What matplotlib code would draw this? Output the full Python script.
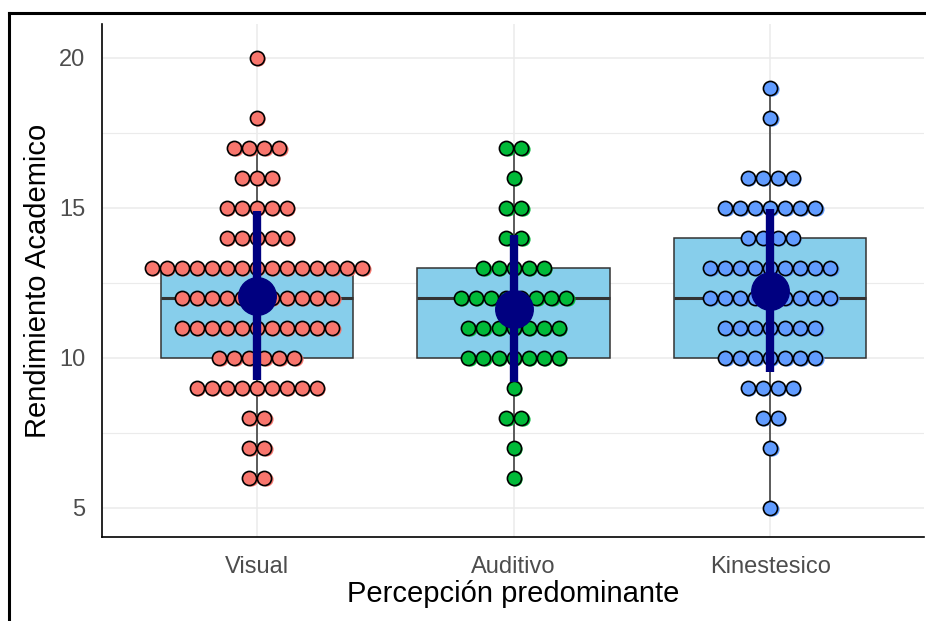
import numpy as np
import matplotlib
matplotlib.use("Agg")
import matplotlib.pyplot as plt
from matplotlib.lines import Line2D
from matplotlib.transforms import ScaledTranslation

plt.rcParams['font.family'] = ['Liberation Sans', 'DejaVu Sans']

groups = ['Visual', 'Auditivo', 'Kinestesico']
colors = ['#F8766D', '#00BA38', '#619CFF']

# score -> number of students per perception group
visual_scores = [20, 18, 17, 16, 15, 14, 13, 12, 11, 10, 9, 8, 7, 6]
visual_counts = [1, 1, 4, 3, 5, 5, 15, 11, 11, 6, 9, 2, 2, 2]
auditivo_scores = [17, 16, 15, 14, 13, 12, 11, 10, 9, 8, 7, 6]
auditivo_counts = [2, 1, 2, 2, 5, 8, 7, 7, 1, 2, 1, 1]
kines_scores = [19, 18, 16, 15, 14, 13, 12, 11, 10, 9, 8, 7, 5]
kines_counts = [1, 1, 4, 7, 4, 9, 9, 7, 7, 4, 2, 1, 1]

score_sets = [visual_scores, auditivo_scores, kines_scores]
count_sets = [visual_counts, auditivo_counts, kines_counts]
values = [np.repeat(s, c) for s, c in zip(score_sets, count_sets)]

W, H = 926, 621
fig = plt.figure(figsize=(W / 100, H / 100), dpi=100)
ax = fig.add_axes([102 / W, (H - 537) / H, (924 - 102) / W, (537 - 24) / H])

pos = np.arange(1, len(groups) + 1)
grid_c = '#EBEBEB'
ax.set_axisbelow(True)
ax.set_yticks([5, 10, 15, 20])
ax.set_yticks([7.5, 12.5, 17.5], minor=True)
ax.grid(axis='y', which='major', color=grid_c, lw=1.1)
ax.grid(axis='y', which='minor', color=grid_c, lw=0.8)
ax.grid(axis='x', which='major', color=grid_c, lw=1.1)

ax.boxplot(values, positions=pos, widths=0.75, whis=1.5, showfliers=False,
           patch_artist=True,
           boxprops=dict(facecolor='#87CEEB', edgecolor='#333333', lw=1.1),
           medianprops=dict(color='#333333', lw=2.2),
           whiskerprops=dict(color='#333333', lw=1.1),
           capprops=dict(visible=False), zorder=2)

# stacked dots, centred on each group
spacing = 0.0585
shadow = ax.transData + ScaledTranslation(1.5 / 100, -1.5 / 100, fig.dpi_scale_trans)
for p, scores, counts, col in zip(pos, score_sets, count_sets, colors):
    xs, ys = [], []
    for s, n in zip(scores, counts):
        xs.extend(p + (np.arange(n) - (n - 1) / 2) * spacing)
        ys.extend([s] * n)
    ax.plot(xs, ys, 'o', ms=10.2, mfc=col, mec='none', transform=shadow, zorder=3)
    ax.plot(xs, ys, 'o', ms=10.2, mfc=col, mec='black', mew=1.2, zorder=4)

# mean +/- sd
for p, v in zip(pos, values):
    m, sd = v.mean(), v.std(ddof=1)
    ax.plot([p, p], [m - sd, m + sd], color='#000080', lw=6, solid_capstyle='butt', zorder=5)
    ax.plot([p], [m], 'o', ms=27, color='#000080', zorder=6)

ax.set_xlim(0.396, 3.6)
ax.set_ylim(4.03, 21.13)
ax.set_xticks(pos)
ax.set_xticklabels(groups)
ax.tick_params(axis='both', which='both', length=0, labelsize=17, labelcolor='#4D4D4D')
ax.tick_params(axis='x', pad=14)
ax.tick_params(axis='y', pad=12)
for side in ['top', 'right']:
    ax.spines[side].set_visible(False)
for side in ['left', 'bottom']:
    ax.spines[side].set_color('black')
    ax.spines[side].set_linewidth(1.2)

ax.set_xlabel('Percepción predominante', fontsize=21, labelpad=1)
ax.set_ylabel('Rendimiento Academico', fontsize=21, labelpad=5)

# outer frame
fig.add_artist(Line2D([9 / W, 1], [1 - 13 / H, 1 - 13 / H], color='black', lw=2.2,
                      transform=fig.transFigure, solid_capstyle='projecting'))
fig.add_artist(Line2D([9 / W, 9 / W], [0, 1 - 13 / H], color='black', lw=2.2,
                      transform=fig.transFigure, solid_capstyle='projecting'))

fig.savefig('out.png', dpi=100, facecolor='white')
